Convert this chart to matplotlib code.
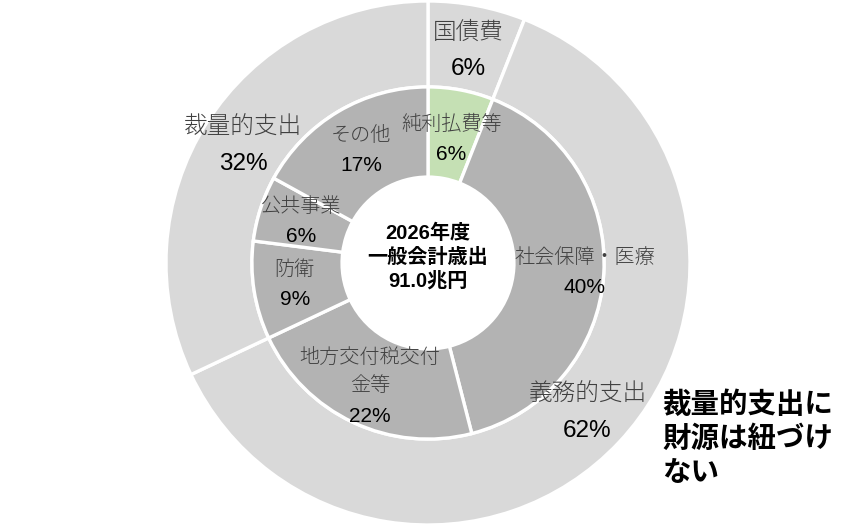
import numpy as np
import matplotlib
matplotlib.use("Agg")
import matplotlib.pyplot as plt

# outer ring
outer_labels = ["国債費", "義務的支出", "裁量的支出"]
outer_values = [6, 62, 32]

# inner ring
inner_labels = ["純利払費等", "社会保障・医療", "地方交付税交付\n金等", "防衛", "公共事業", "その他"]
inner_values = [6, 40, 22, 9, 6, 17]

center_text = "2026年度\n一般会計歳出\n91.0兆円"
note_text = "裁量的支出に\n財源は紐づけ\nない"

# label radius for each wedge (fraction of outer radius)
outer_label_r = [0.825, 0.835, 0.835]
inner_label_r = [0.48, 0.60, 0.52, 0.515, 0.51, 0.50]

CJK = "Noto Sans CJK JP"
NUM = ["Liberation Sans", "Noto Sans CJK JP"]

fig = plt.figure(figsize=(8.5, 5.27), dpi=100)
ax = fig.add_axes([0, 0, 1, 1])

R_OUT, R_MID, R_HOLE = 1.0, 0.672, 0.328
outer_colors = ["#d9d9d9"] * 3
inner_colors = ["#c5e0b4"] + ["#b3b3b3"] * 5

w_out, _ = ax.pie(outer_values, radius=R_OUT, colors=outer_colors, startangle=90,
                  counterclock=False,
                  wedgeprops=dict(width=R_OUT - R_MID, edgecolor="white", linewidth=2.4))
w_in, _ = ax.pie(inner_values, radius=R_MID, colors=inner_colors, startangle=90,
                 counterclock=False,
                 wedgeprops=dict(width=R_MID - R_HOLE, edgecolor="white", linewidth=2.4))


def put_label(wedge, r, name, vals_pct, gap, name_size, pct_size):
    mid = np.deg2rad((wedge.theta1 + wedge.theta2) / 2)
    x, y = r * np.cos(mid), r * np.sin(mid)
    nlines = name.count("\n") + 1
    # name lines above, percent below, centred on (x, y)
    total = nlines + 1
    top = (total - 1) / 2 * gap
    ax.annotate(name, (x, y), xytext=(0, top - (nlines - 1) / 2 * gap), textcoords="offset points",
                ha="center", va="center", fontsize=name_size, family=CJK, fontweight="light",
                color="#404040", linespacing=1.45 if nlines > 1 else 1.2)
    ax.annotate(f"{vals_pct}%", (x, y), xytext=(0, -top), textcoords="offset points",
                ha="center", va="center", fontsize=pct_size, family=NUM, color="#000000")


for w, r, lab, v in zip(w_out, outer_label_r, outer_labels, outer_values):
    put_label(w, r, lab, v, 26, 17, 17.5)
for w, r, lab, v in zip(w_in, inner_label_r, inner_labels, inner_values):
    put_label(w, r, lab, v, 21.5, 14.5, 15)

ax.text(0, 0.022, center_text, ha="center", va="center", fontsize=14.5, fontweight="bold",
        family=NUM, linespacing=1.32)
ax.text(0.893, -0.672, note_text, ha="left", va="center", fontsize=20.5, fontweight="bold",
        family=[CJK], linespacing=1.28)

ax.set_xlim(-428 / 262, (850 - 428) / 262)
ax.set_ylim((263 - 527) / 262, 263 / 262)
ax.set_aspect("auto")
ax.axis("off")

fig.savefig("out.png", dpi=100)
